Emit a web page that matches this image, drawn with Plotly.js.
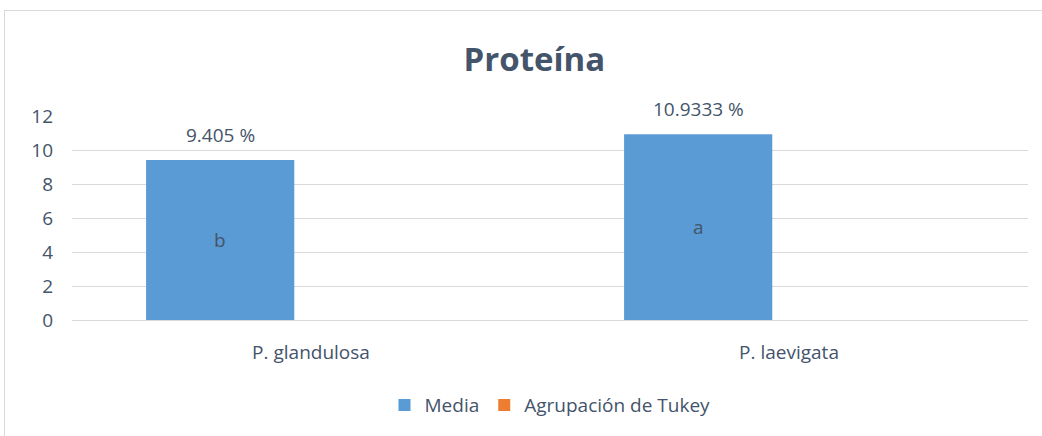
<!DOCTYPE html>
<html>
<head>
<meta charset="utf-8">
<script src="https://cdn.plot.ly/plotly-3.0.1.min.js"></script>
<style>
  html, body { margin: 0; padding: 0; background: #fff; overflow: hidden; }
  #frame { position: absolute; left: 4px; top: 10px; width: 1040px; height: 430px; border: 1px solid #D9D9D9; }
  #chart { width: 1040px; height: 430px; }
</style>
</head>
<body>
<div id="frame"><div id="chart"></div></div>
<script>
const categories = ["P. glandulosa", "P. laevigata"];
const media = [9.405, 10.9333];
const mediaLabels = ["9.405 %", "10.9333 %"];
const tukeyGroups = ["b", "a"];
const tukeyValues = [0, 0];
const yTicks = [0, 2, 4, 6, 8, 10, 12];

const textColor = "#44546A";
const fontFam = "Open Sans, Noto Sans, sans-serif";

const traces = [
  {
    type: "bar", name: "Media", x: categories, y: media,
    width: 0.31, offset: -0.345,
    marker: { color: "#5B9BD5", line: { width: 0 } },
    hoverinfo: "skip"
  },
  {
    type: "bar", name: "Agrupación de Tukey", x: categories, y: tukeyValues,
    width: 0.31, offset: -0.035,
    marker: { color: "#ED7D31", line: { width: 0 } },
    hoverinfo: "skip"
  }
];

const annotations = [];
categories.forEach((c, i) => {
  annotations.push({
    x: c, y: media[i], xref: "x", yref: "y", text: mediaLabels[i],
    showarrow: false, yanchor: "bottom", yshift: 10, xshift: -91,
    font: { family: fontFam, size: 19, color: textColor }
  });
  annotations.push({
    x: c, y: media[i] / 2, xref: "x", yref: "y", text: tukeyGroups[i],
    showarrow: false, yanchor: "middle", xshift: -91,
    font: { family: fontFam, size: 19, color: textColor }
  });
});

const layout = {
  width: 1040, height: 430,
  margin: { l: 67, r: 17, t: 105, b: 121 },
  paper_bgcolor: "#ffffff", plot_bgcolor: "#ffffff",
  title: {
    text: "<b>Proteína</b>", x: 0.509, xanchor: "center", xref: "container",
    y: 1 - 48 / 430, yanchor: "middle", yref: "container",
    font: { family: fontFam, size: 33, color: textColor }
  },
  xaxis: {
    type: "category", showgrid: false, zeroline: false, showline: false,
    ticks: "", ticklabelstandoff: 19,
    tickfont: { family: fontFam, size: 19, color: textColor }
  },
  yaxis: {
    range: [0, 12], tickvals: yTicks, showgrid: true, gridcolor: "#D9D9D9", gridwidth: 1,
    zeroline: true, zerolinecolor: "#D9D9D9", zerolinewidth: 1, showline: false,
    ticks: "", ticklabelstandoff: 18,
    tickfont: { family: fontFam, size: 19, color: textColor }
  },
  barmode: "group",
  showlegend: true,
  legend: {
    orientation: "h", x: 0.5, xanchor: "center", y: -0.417, yanchor: "middle",
    font: { family: fontFam, size: 19, color: textColor },
    itemwidth: 30, traceorder: "normal"
  },
  annotations: annotations
};

Plotly.newPlot("chart", traces, layout, { staticPlot: true, displayModeBar: false });
</script>
</body>
</html>
